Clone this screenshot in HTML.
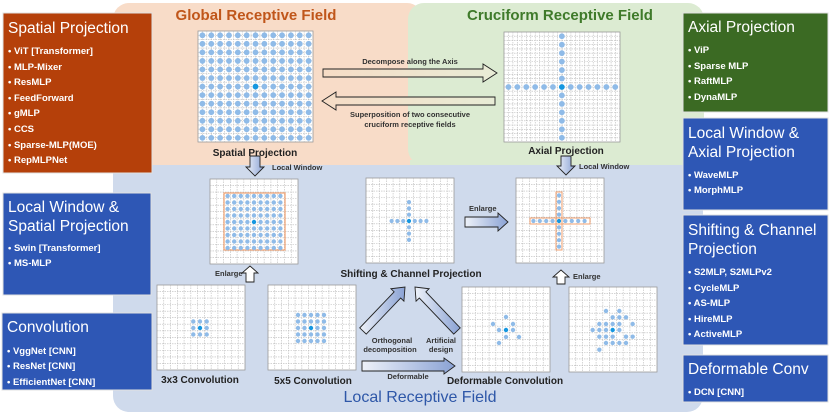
<!DOCTYPE html>
<html><head><meta charset="utf-8"><style>
body{margin:0;width:830px;height:414px;overflow:hidden;background:#fff;font-family:"Liberation Sans",sans-serif}
svg text{font-family:"Liberation Sans",sans-serif}
</style></head><body>
<svg id="s" width="830" height="414" viewBox="0 0 830 414" xmlns="http://www.w3.org/2000/svg">
<defs>
<linearGradient id="ag" x1="0" y1="0" x2="1" y2="0"><stop offset="0" stop-color="#eef2f9"/><stop offset="1" stop-color="#8aa2d4"/></linearGradient>
<linearGradient id="pg" x1="0" y1="0" x2="1" y2="0"><stop offset="0" stop-color="#f6dcc6"/><stop offset="1" stop-color="#e8ecd6"/></linearGradient>
</defs>
<rect x="113" y="3" width="310" height="162" rx="16" fill="#f8dcc8"/>
<rect x="408" y="3" width="296" height="162" rx="16" fill="#dcebd2"/>
<rect x="113" y="165" width="590" height="247" rx="16" fill="#cfdaec"/>
<rect x="113" y="160" width="590" height="20" fill="#cfdaec"/>
<rect x="113" y="160" width="300" height="5" fill="#f8dcc8"/>
<rect x="410" y="160" width="294" height="5" fill="#dcebd2"/>
<text x="256" y="20" font-size="15" font-weight="bold" fill="#c0561a" text-anchor="middle">Global Receptive Field</text>
<text x="560" y="20" font-size="15" font-weight="bold" fill="#3f7a2a" text-anchor="middle">Cruciform Receptive Field</text>
<text x="420" y="402" font-size="16" fill="#2e57a8" text-anchor="middle">Local Receptive Field</text>
<g id="grids"></g>
<g id="arrows"></g>
<g font-size="10" font-weight="bold" fill="#222">
<text x="255" y="156" text-anchor="middle">Spatial Projection</text>
<text x="566" y="154" text-anchor="middle">Axial Projection</text>
<text x="411" y="277" text-anchor="middle">Shifting &amp; Channel Projection</text>
<text x="200" y="383" text-anchor="middle">3x3 Convolution</text>
<text x="313" y="384" text-anchor="middle">5x5 Convolution</text>
<text x="505" y="384" text-anchor="middle">Deformable Convolution</text>
</g>
<g font-size="7.5" font-weight="bold" fill="#333">
<text x="410" y="64" text-anchor="middle">Decompose along the Axis</text>
<text x="410" y="117" text-anchor="middle">Superposition of two consecutive</text>
<text x="410" y="127" text-anchor="middle">cruciform receptive fields</text>
<text x="272" y="170">Local Window</text>
<text x="579" y="169">Local Window</text>
<text x="215" y="276">Enlarge</text>
<text x="469" y="211">Enlarge</text>
<text x="573" y="279">Enlarge</text>
<text x="392" y="343" text-anchor="middle">Orthogonal</text>
<text x="390" y="352" text-anchor="middle">decomposition</text>
<text x="441" y="343" text-anchor="middle">Artificial</text>
<text x="441" y="352" text-anchor="middle">design</text>
<text x="408" y="379" text-anchor="middle">Deformable</text>
</g>
<rect x="3" y="13" width="149" height="160" fill="#b5400a" stroke="#e0e0e0"/>
<rect x="3" y="193" width="148" height="102" fill="#2e57b5" stroke="#e0e0e0"/>
<rect x="2" y="313" width="150" height="77" fill="#2e57b5" stroke="#e0e0e0"/>
<rect x="683" y="13" width="145" height="99" fill="#3b6a23" stroke="#e0e0e0"/>
<rect x="683" y="118" width="145" height="92" fill="#2e57b5" stroke="#e0e0e0"/>
<rect x="683" y="215" width="145" height="130" fill="#2e57b5" stroke="#e0e0e0"/>
<rect x="683" y="355" width="145" height="47" fill="#2e57b5" stroke="#e0e0e0"/>
<g fill="#fff">
<text x="8" y="33" font-size="15.5">Spatial Projection</text>
<g font-size="9.5" font-weight="bold"><text x="8" y="54">• ViT [Transformer]</text><text x="8" y="70">• MLP-Mixer</text><text x="8" y="85">• ResMLP</text><text x="8" y="101">• FeedForward</text><text x="8" y="116">• gMLP</text><text x="8" y="132">• CCS</text><text x="8" y="148">• Sparse-MLP(MOE)</text><text x="8" y="163">• RepMLPNet</text></g>
<text x="8" y="212" font-size="15.5">Local Window &amp;</text>
<text x="8" y="231" font-size="15.5">Spatial Projection</text>
<g font-size="9.5" font-weight="bold"><text x="8" y="251">• Swin [Transformer]</text><text x="8" y="266">• MS-MLP</text></g>
<text x="7" y="332" font-size="15.5">Convolution</text>
<g font-size="9.5" font-weight="bold"><text x="7" y="354">• VggNet [CNN]</text><text x="7" y="369">• ResNet [CNN]</text><text x="7" y="385">• EfficientNet [CNN]</text></g>
<text x="688" y="32" font-size="15.5">Axial Projection</text>
<g font-size="9.5" font-weight="bold"><text x="688" y="53">• ViP</text><text x="688" y="69">• Sparse MLP</text><text x="688" y="84">• RaftMLP</text><text x="688" y="100">• DynaMLP</text></g>
<text x="688" y="138" font-size="15.5">Local Window &amp;</text>
<text x="688" y="157" font-size="15.5">Axial Projection</text>
<g font-size="9.5" font-weight="bold"><text x="688" y="178">• WaveMLP</text><text x="688" y="193">• MorphMLP</text></g>
<text x="688" y="235" font-size="15.5">Shifting &amp; Channel</text>
<text x="688" y="254" font-size="15.5">Projection</text>
<g font-size="9.5" font-weight="bold"><text x="688" y="275">• S2MLP, S2MLPv2</text><text x="688" y="291">• CycleMLP</text><text x="688" y="306">• AS-MLP</text><text x="688" y="322">• HireMLP</text><text x="688" y="337">• ActiveMLP</text></g>
<text x="688" y="374" font-size="15.5">Deformable Conv</text>
<g font-size="9.5" font-weight="bold"><text x="688" y="395">• DCN [CNN]</text></g>
</g>
</svg>
<script>
const NS="http://www.w3.org/2000/svg";
const G=document.getElementById('grids'),A=document.getElementById('arrows');
function el(p,t,a){const e=document.createElementNS(NS,t);for(const k in a)e.setAttribute(k,a[k]);p.appendChild(e);return e;}
function grid(x,y,w,h,n){el(G,'rect',{x,y,width:w,height:h,fill:'#fff',stroke:'#999','stroke-width':0.8});
 for(let i=1;i<n;i++){const xx=x+w*i/n,yy=y+h*i/n;
  el(G,'line',{x1:xx,y1:y,x2:xx,y2:y+h,stroke:'#bbb','stroke-width':0.6,'stroke-dasharray':'1.5 1'});
  el(G,'line',{x1:x,y1:yy,x2:x+w,y2:yy,stroke:'#bbb','stroke-width':0.6,'stroke-dasharray':'1.5 1'});}}
function dot(x,y,r,c){el(G,'circle',{cx:x,cy:y,r:r,fill:c||'#8fbbe8'});}
const C='#1597e0';
grid(198,31,115,111,26);
for(let i=0;i<13;i++)for(let j=0;j<13;j++)dot(198+8.85*(i+0.5),31+8.55*(j+0.5),2.9,(i==6&&j==6)?C:null);
grid(504,32,116,110,26);
for(let i=0;i<13;i++){dot(504+8.9*(i+0.5),32+110*6.5/13,2.9,i==6?C:null);if(i!=6)dot(504+8.9*6.5,32+8.46*(i+0.5),2.9);}
const sg=[[210,179],[366,178],[516,178],[157,285],[268,285],[462,287],[569,287]];
sg.forEach(p=>grid(p[0],p[1],88,85,13));
el(G,'rect',{x:224,y:193,width:61,height:57,fill:'none',stroke:'#f0a070','stroke-width':1.2});
for(let i=-4;i<=4;i++)for(let j=-4;j<=4;j++)dot(254+i*6.6,222+j*6.5,2.2,(i==0&&j==0)?C:null);
for(let i=-3;i<=3;i++){dot(409+i*5.8,221,2.1,i==0?C:null);if(i)dot(409,221+i*6.3,2.1);}
el(G,'rect',{x:530,y:218,width:60,height:6,fill:'none',stroke:'#f0a070','stroke-width':1});
el(G,'rect',{x:556,y:192,width:6,height:58,fill:'none',stroke:'#f0a070','stroke-width':1});
for(let i=-4;i<=4;i++){dot(559+i*6.4,221,2.1,i==0?C:null);if(i)dot(559,221+i*6.4,2.1);}
for(let i=-1;i<=1;i++)for(let j=-1;j<=1;j++)dot(200+i*6.7,328+j*6.5,2.2,(i||j)?null:C);
for(let i=-2;i<=2;i++)for(let j=-2;j<=2;j++)dot(311+i*6.5,328+j*6.5,2.2,(i||j)?null:C);
[[506,317],[493,324],[513,324],[499,330],[513,330],[506,337],[519,337],[499,343]].forEach(p=>dot(p[0],p[1],2.2));dot(506,330,2.2,C);
[[573,312],[613,312],[593,331],[613,331],[633,331],[553,351],[573,351],[593,351],[613,351],[653,351],[533,369],[553,369],[573,369],[613,369],[553,389],[573,389],[593,389],[633,389],[653,389],[573,408],[593,408],[613,408],[633,408],[553,428]].forEach(p=>dot(p[0]/3+415,p[1]/3+207,2.2));
dot(593/3+415,369/3+207,2.2,C);
function arrow(x1,y1,x2,y2,sw,hw,hl,fill){const dx=x2-x1,dy=y2-y1,L=Math.hypot(dx,dy),ux=dx/L,uy=dy/L,nx=-uy,ny=ux;
 const bx=x2-ux*hl,by=y2-uy*hl;const P=[[x1+nx*sw,y1+ny*sw],[bx+nx*sw,by+ny*sw],[bx+nx*hw,by+ny*hw],[x2,y2],[bx-nx*hw,by-ny*hw],[bx-nx*sw,by-ny*sw],[x1-nx*sw,y1-ny*sw]];
 el(A,'polygon',{points:P.map(p=>p.join(',')).join(' '),fill:fill||'url(#ag)',stroke:'#222','stroke-width':0.9});}
arrow(323,73,497,73,4,9,14,'url(#pg)');
arrow(495,101,322,101,4,9,14,'url(#pg)');
arrow(255,156,255,176,5,9,9);
arrow(566,156,566,175,5,9,9);
arrow(250,282,250,266,4,8,7,'#fff');
arrow(561,284,561,270,4,8,7,'#fff');
arrow(465,222,508,222,5,9,10);
arrow(363,331,405,287,4.5,9,11);
arrow(457,331,415,287,4.5,9,11);
arrow(362,366,455,366,5,8,11);
</script>
</body></html>
